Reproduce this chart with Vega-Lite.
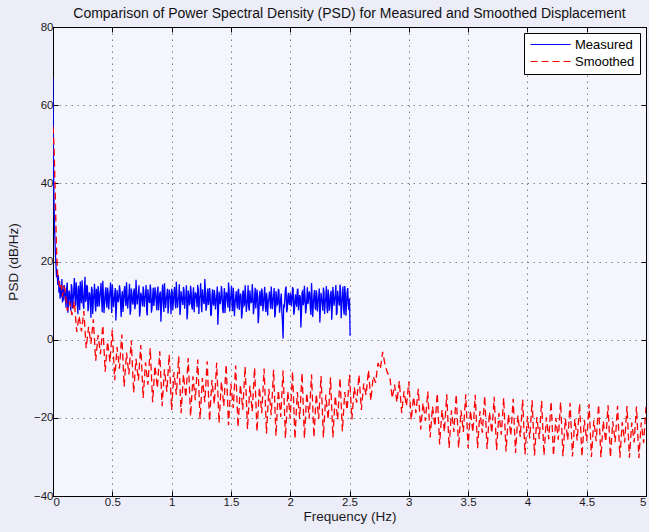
{
"$schema":"https://vega.github.io/schema/vega-lite/v6.json",
"autosize":"none",
"width":593,"height":469,
"padding":{"left":53,"top":27,"right":3,"bottom":36},
"title":{"text":"Comparison of Power Spectral Density (PSD) for Measured and Smoothed Displacement","fontSize":14,"fontWeight":"normal","font":"Liberation Sans","color":"#111","offset":0},
"data":{"values":[
{"f":0,"p":67,"s":"Measured"},{"f":0.004,"p":45,"s":"Measured"},{"f":0.008,"p":36,"s":"Measured"},{"f":0.012,"p":30,"s":"Measured"},{"f":0.016,"p":26,"s":"Measured"},{"f":0.02,"p":22,"s":"Measured"},{"f":0.025,"p":19,"s":"Measured"},{"f":0.03,"p":16,"s":"Measured"},{"f":0.035,"p":18,"s":"Measured"},{"f":0.04,"p":14,"s":"Measured"},{"f":0.045,"p":16.5,"s":"Measured"},{"f":0.05,"p":12,"s":"Measured"},{"f":0.055,"p":15,"s":"Measured"},{"f":0.06,"p":10.5,"s":"Measured"},{"f":0.065,"p":14,"s":"Measured"},{"f":0.07,"p":11,"s":"Measured"},{"f":0.075,"p":15.5,"s":"Measured"},{"f":0.08,"p":9.5,"s":"Measured"},{"f":0.085,"p":13,"s":"Measured"},{"f":0.09,"p":10,"s":"Measured"},{"f":0.095,"p":14,"s":"Measured"},
{"f":0.10,"p":12.5,"s":"Measured"},{"f":0.11,"p":8.2,"s":"Measured"},{"f":0.12,"p":14.6,"s":"Measured"},{"f":0.13,"p":9.1,"s":"Measured"},{"f":0.14,"p":11.8,"s":"Measured"},{"f":0.15,"p":7.4,"s":"Measured"},{"f":0.16,"p":13.2,"s":"Measured"},{"f":0.17,"p":10.1,"s":"Measured"},{"f":0.18,"p":15.8,"s":"Measured"},{"f":0.19,"p":8.7,"s":"Measured"},
{"f":0.20,"p":12.9,"s":"Measured"},{"f":0.21,"p":6.5,"s":"Measured"},{"f":0.22,"p":11.4,"s":"Measured"},{"f":0.23,"p":14.9,"s":"Measured"},{"f":0.24,"p":9.3,"s":"Measured"},{"f":0.25,"p":12.2,"s":"Measured"},{"f":0.26,"p":7.9,"s":"Measured"},{"f":0.27,"p":16.1,"s":"Measured"},{"f":0.28,"p":10.4,"s":"Measured"},{"f":0.29,"p":13.5,"s":"Measured"},
{"f":0.30,"p":8.1,"s":"Measured"},{"f":0.31,"p":11.7,"s":"Measured"},{"f":0.32,"p":5.6,"s":"Measured"},{"f":0.33,"p":12.8,"s":"Measured"},{"f":0.34,"p":9.9,"s":"Measured"},{"f":0.35,"p":14.3,"s":"Measured"},{"f":0.36,"p":7.2,"s":"Measured"},{"f":0.37,"p":11.1,"s":"Measured"},{"f":0.38,"p":13.7,"s":"Measured"},{"f":0.39,"p":8.5,"s":"Measured"},
{"f":0.40,"p":12.4,"s":"Measured"},{"f":0.41,"p":10.2,"s":"Measured"},{"f":0.42,"p":15.1,"s":"Measured"},{"f":0.43,"p":6.8,"s":"Measured"},{"f":0.44,"p":11.9,"s":"Measured"},{"f":0.45,"p":9.4,"s":"Measured"},{"f":0.46,"p":13.3,"s":"Measured"},{"f":0.47,"p":7.7,"s":"Measured"},{"f":0.48,"p":12.1,"s":"Measured"},{"f":0.49,"p":10.6,"s":"Measured"},
{"f":0.50,"p":14.2,"s":"Measured"},{"f":0.51,"p":8.3,"s":"Measured"},{"f":0.52,"p":11.5,"s":"Measured"},{"f":0.53,"p":4.9,"s":"Measured"},{"f":0.54,"p":12.7,"s":"Measured"},{"f":0.55,"p":9.6,"s":"Measured"},{"f":0.56,"p":13.9,"s":"Measured"},{"f":0.57,"p":8.9,"s":"Measured"},{"f":0.58,"p":11.2,"s":"Measured"},{"f":0.59,"p":7.1,"s":"Measured"},
{"f":0.60,"p":12.6,"s":"Measured"},{"f":0.61,"p":10.3,"s":"Measured"},{"f":0.62,"p":14.7,"s":"Measured"},{"f":0.63,"p":8.0,"s":"Measured"},{"f":0.64,"p":11.6,"s":"Measured"},{"f":0.65,"p":6.4,"s":"Measured"},{"f":0.66,"p":13.1,"s":"Measured"},{"f":0.67,"p":9.5,"s":"Measured"},{"f":0.68,"p":12.3,"s":"Measured"},{"f":0.69,"p":7.8,"s":"Measured"},
{"f":0.70,"p":15.3,"s":"Measured"},{"f":0.71,"p":9.0,"s":"Measured"},{"f":0.72,"p":11.8,"s":"Measured"},{"f":0.73,"p":5.9,"s":"Measured"},{"f":0.74,"p":12.0,"s":"Measured"},{"f":0.75,"p":10.1,"s":"Measured"},{"f":0.76,"p":13.6,"s":"Measured"},{"f":0.77,"p":8.4,"s":"Measured"},{"f":0.78,"p":11.3,"s":"Measured"},{"f":0.79,"p":7.3,"s":"Measured"},
{"f":0.80,"p":12.9,"s":"Measured"},{"f":0.81,"p":9.7,"s":"Measured"},{"f":0.82,"p":14.1,"s":"Measured"},{"f":0.83,"p":6.9,"s":"Measured"},{"f":0.84,"p":11.0,"s":"Measured"},{"f":0.85,"p":8.6,"s":"Measured"},{"f":0.86,"p":13.4,"s":"Measured"},{"f":0.87,"p":10.0,"s":"Measured"},{"f":0.88,"p":12.5,"s":"Measured"},{"f":0.89,"p":7.5,"s":"Measured"},
{"f":0.90,"p":11.7,"s":"Measured"},{"f":0.91,"p":4.6,"s":"Measured"},{"f":0.92,"p":12.2,"s":"Measured"},{"f":0.93,"p":9.2,"s":"Measured"},{"f":0.94,"p":14.4,"s":"Measured"},{"f":0.95,"p":8.1,"s":"Measured"},{"f":0.96,"p":11.4,"s":"Measured"},{"f":0.97,"p":6.7,"s":"Measured"},{"f":0.98,"p":12.8,"s":"Measured"},{"f":0.99,"p":10.5,"s":"Measured"},
{"f":1.00,"p":13.0,"s":"Measured"},{"f":1.01,"p":7.6,"s":"Measured"},{"f":1.02,"p":11.9,"s":"Measured"},{"f":1.03,"p":9.3,"s":"Measured"},{"f":1.04,"p":14.8,"s":"Measured"},{"f":1.05,"p":8.2,"s":"Measured"},{"f":1.06,"p":10.9,"s":"Measured"},{"f":1.07,"p":6.3,"s":"Measured"},{"f":1.08,"p":12.4,"s":"Measured"},{"f":1.09,"p":9.8,"s":"Measured"},
{"f":1.10,"p":13.5,"s":"Measured"},{"f":1.11,"p":7.9,"s":"Measured"},{"f":1.12,"p":11.1,"s":"Measured"},{"f":1.13,"p":5.2,"s":"Measured"},{"f":1.14,"p":12.6,"s":"Measured"},{"f":1.15,"p":9.0,"s":"Measured"},{"f":1.16,"p":13.8,"s":"Measured"},{"f":1.17,"p":8.5,"s":"Measured"},{"f":1.18,"p":11.6,"s":"Measured"},{"f":1.19,"p":7.0,"s":"Measured"},
{"f":1.20,"p":12.1,"s":"Measured"},{"f":1.21,"p":10.2,"s":"Measured"},{"f":1.22,"p":14.0,"s":"Measured"},{"f":1.23,"p":6.6,"s":"Measured"},{"f":1.24,"p":11.3,"s":"Measured"},{"f":1.25,"p":8.8,"s":"Measured"},{"f":1.26,"p":12.9,"s":"Measured"},{"f":1.27,"p":9.6,"s":"Measured"},{"f":1.28,"p":15.5,"s":"Measured"},{"f":1.29,"p":7.4,"s":"Measured"},
{"f":1.30,"p":11.5,"s":"Measured"},{"f":1.31,"p":8.9,"s":"Measured"},{"f":1.32,"p":13.2,"s":"Measured"},{"f":1.33,"p":6.1,"s":"Measured"},{"f":1.34,"p":10.8,"s":"Measured"},{"f":1.35,"p":9.4,"s":"Measured"},{"f":1.36,"p":12.7,"s":"Measured"},{"f":1.37,"p":7.7,"s":"Measured"},{"f":1.38,"p":11.0,"s":"Measured"},{"f":1.39,"p":3.8,"s":"Measured"},
{"f":1.40,"p":12.3,"s":"Measured"},{"f":1.41,"p":9.1,"s":"Measured"},{"f":1.42,"p":13.7,"s":"Measured"},{"f":1.43,"p":8.0,"s":"Measured"},{"f":1.44,"p":10.7,"s":"Measured"},{"f":1.45,"p":6.8,"s":"Measured"},{"f":1.46,"p":12.0,"s":"Measured"},{"f":1.47,"p":9.9,"s":"Measured"},{"f":1.48,"p":14.6,"s":"Measured"},{"f":1.49,"p":7.2,"s":"Measured"},
{"f":1.50,"p":11.2,"s":"Measured"},{"f":1.51,"p":8.4,"s":"Measured"},{"f":1.52,"p":13.3,"s":"Measured"},{"f":1.53,"p":6.0,"s":"Measured"},{"f":1.54,"p":10.6,"s":"Measured"},{"f":1.55,"p":9.2,"s":"Measured"},{"f":1.56,"p":12.5,"s":"Measured"},{"f":1.57,"p":7.6,"s":"Measured"},{"f":1.58,"p":11.8,"s":"Measured"},{"f":1.59,"p":5.4,"s":"Measured"},
{"f":1.60,"p":12.2,"s":"Measured"},{"f":1.61,"p":8.7,"s":"Measured"},{"f":1.62,"p":13.9,"s":"Measured"},{"f":1.63,"p":7.1,"s":"Measured"},{"f":1.64,"p":10.4,"s":"Measured"},{"f":1.65,"p":8.3,"s":"Measured"},{"f":1.66,"p":12.6,"s":"Measured"},{"f":1.67,"p":9.5,"s":"Measured"},{"f":1.68,"p":14.2,"s":"Measured"},{"f":1.69,"p":6.5,"s":"Measured"},
{"f":1.70,"p":11.0,"s":"Measured"},{"f":1.71,"p":8.0,"s":"Measured"},{"f":1.72,"p":12.8,"s":"Measured"},{"f":1.73,"p":4.2,"s":"Measured"},{"f":1.74,"p":10.9,"s":"Measured"},{"f":1.75,"p":9.0,"s":"Measured"},{"f":1.76,"p":13.1,"s":"Measured"},{"f":1.77,"p":7.3,"s":"Measured"},{"f":1.78,"p":11.5,"s":"Measured"},{"f":1.79,"p":8.6,"s":"Measured"},
{"f":1.80,"p":12.0,"s":"Measured"},{"f":1.81,"p":6.2,"s":"Measured"},{"f":1.82,"p":10.3,"s":"Measured"},{"f":1.83,"p":9.7,"s":"Measured"},{"f":1.84,"p":13.6,"s":"Measured"},{"f":1.85,"p":7.8,"s":"Measured"},{"f":1.86,"p":11.1,"s":"Measured"},{"f":1.87,"p":5.7,"s":"Measured"},{"f":1.88,"p":12.4,"s":"Measured"},{"f":1.89,"p":8.9,"s":"Measured"},
{"f":1.90,"p":13.0,"s":"Measured"},{"f":1.91,"p":6.9,"s":"Measured"},{"f":1.92,"p":10.5,"s":"Measured"},{"f":1.93,"p":6.9,"s":"Measured"},{"f":1.94,"p":0.3,"s":"Measured"},{"f":1.95,"p":8.2,"s":"Measured"},{"f":1.96,"p":12.9,"s":"Measured"},{"f":1.97,"p":7.0,"s":"Measured"},{"f":1.98,"p":10.8,"s":"Measured"},{"f":1.99,"p":9.4,"s":"Measured"},
{"f":2.00,"p":11.9,"s":"Measured"},{"f":2.01,"p":8.5,"s":"Measured"},{"f":2.02,"p":13.4,"s":"Measured"},{"f":2.03,"p":6.4,"s":"Measured"},{"f":2.04,"p":10.2,"s":"Measured"},{"f":2.05,"p":9.3,"s":"Measured"},{"f":2.06,"p":12.7,"s":"Measured"},{"f":2.07,"p":7.5,"s":"Measured"},{"f":2.08,"p":11.4,"s":"Measured"},{"f":2.09,"p":3.1,"s":"Measured"},
{"f":2.10,"p":12.1,"s":"Measured"},{"f":2.11,"p":8.8,"s":"Measured"},{"f":2.12,"p":13.8,"s":"Measured"},{"f":2.13,"p":6.7,"s":"Measured"},{"f":2.14,"p":10.6,"s":"Measured"},{"f":2.15,"p":9.1,"s":"Measured"},{"f":2.16,"p":12.3,"s":"Measured"},{"f":2.17,"p":7.9,"s":"Measured"},{"f":2.18,"p":14.5,"s":"Measured"},{"f":2.19,"p":5.8,"s":"Measured"},
{"f":2.20,"p":11.2,"s":"Measured"},{"f":2.21,"p":8.4,"s":"Measured"},{"f":2.22,"p":12.6,"s":"Measured"},{"f":2.23,"p":7.2,"s":"Measured"},{"f":2.24,"p":10.9,"s":"Measured"},{"f":2.25,"p":4.4,"s":"Measured"},{"f":2.26,"p":12.0,"s":"Measured"},{"f":2.27,"p":9.4,"s":"Measured"},{"f":2.28,"p":13.3,"s":"Measured"},{"f":2.29,"p":6.6,"s":"Measured"},
{"f":2.30,"p":10.7,"s":"Measured"},{"f":2.31,"p":8.1,"s":"Measured"},{"f":2.32,"p":12.8,"s":"Measured"},{"f":2.33,"p":7.4,"s":"Measured"},{"f":2.34,"p":11.6,"s":"Measured"},{"f":2.35,"p":5.1,"s":"Measured"},{"f":2.36,"p":13.5,"s":"Measured"},{"f":2.37,"p":8.7,"s":"Measured"},{"f":2.38,"p":11.3,"s":"Measured"},{"f":2.39,"p":6.3,"s":"Measured"},
{"f":2.40,"p":12.5,"s":"Measured"},{"f":2.41,"p":9.6,"s":"Measured"},{"f":2.42,"p":14.1,"s":"Measured"},{"f":2.43,"p":5.5,"s":"Measured"},{"f":2.44,"p":11.0,"s":"Measured"},{"f":2.45,"p":7.8,"s":"Measured"},{"f":2.46,"p":13.7,"s":"Measured"},{"f":2.47,"p":6.1,"s":"Measured"},{"f":2.48,"p":12.2,"s":"Measured"},{"f":2.49,"p":9.0,"s":"Measured"},
{"f":2.50,"p":10.5,"s":"Measured"},{"f":2.505,"p":1.0,"s":"Measured"},
{"f":0.105,"p":10.4,"s":"Measured"},{"f":0.115,"p":13.1,"s":"Measured"},{"f":0.125,"p":6.9,"s":"Measured"},{"f":0.135,"p":12.6,"s":"Measured"},{"f":0.145,"p":9.8,"s":"Measured"},{"f":0.155,"p":14.2,"s":"Measured"},{"f":0.165,"p":8.0,"s":"Measured"},{"f":0.175,"p":12.4,"s":"Measured"},{"f":0.185,"p":11.0,"s":"Measured"},{"f":0.195,"p":14.7,"s":"Measured"},
{"f":0.205,"p":9.2,"s":"Measured"},{"f":0.215,"p":13.8,"s":"Measured"},{"f":0.225,"p":7.6,"s":"Measured"},{"f":0.235,"p":11.5,"s":"Measured"},{"f":0.245,"p":15.2,"s":"Measured"},{"f":0.255,"p":8.8,"s":"Measured"},{"f":0.265,"p":12.9,"s":"Measured"},{"f":0.275,"p":9.7,"s":"Measured"},{"f":0.285,"p":14.0,"s":"Measured"},{"f":0.295,"p":7.3,"s":"Measured"},
{"f":0.305,"p":12.1,"s":"Measured"},{"f":0.315,"p":10.0,"s":"Measured"},{"f":0.325,"p":13.5,"s":"Measured"},{"f":0.335,"p":6.6,"s":"Measured"},{"f":0.345,"p":11.8,"s":"Measured"},{"f":0.355,"p":9.1,"s":"Measured"},{"f":0.365,"p":13.0,"s":"Measured"},{"f":0.375,"p":8.4,"s":"Measured"},{"f":0.385,"p":12.2,"s":"Measured"},{"f":0.395,"p":10.8,"s":"Measured"},
{"f":0.405,"p":14.5,"s":"Measured"},{"f":0.415,"p":7.0,"s":"Measured"},{"f":0.425,"p":11.3,"s":"Measured"},{"f":0.435,"p":9.5,"s":"Measured"},{"f":0.445,"p":13.4,"s":"Measured"},{"f":0.455,"p":8.2,"s":"Measured"},{"f":0.465,"p":12.0,"s":"Measured"},{"f":0.475,"p":10.4,"s":"Measured"},{"f":0.485,"p":14.6,"s":"Measured"},{"f":0.495,"p":6.8,"s":"Measured"},
{"f":0.505,"p":11.6,"s":"Measured"},{"f":0.515,"p":9.9,"s":"Measured"},{"f":0.525,"p":13.2,"s":"Measured"},{"f":0.535,"p":7.9,"s":"Measured"},{"f":0.545,"p":11.1,"s":"Measured"},{"f":0.555,"p":10.6,"s":"Measured"},{"f":0.565,"p":12.8,"s":"Measured"},{"f":0.575,"p":5.8,"s":"Measured"},{"f":0.585,"p":12.4,"s":"Measured"},{"f":0.595,"p":9.3,"s":"Measured"},
{"f":0.605,"p":13.7,"s":"Measured"},{"f":0.615,"p":8.6,"s":"Measured"},{"f":0.625,"p":11.0,"s":"Measured"},{"f":0.635,"p":10.2,"s":"Measured"},{"f":0.645,"p":14.3,"s":"Measured"},{"f":0.655,"p":7.4,"s":"Measured"},{"f":0.665,"p":11.7,"s":"Measured"},{"f":0.675,"p":9.0,"s":"Measured"},{"f":0.685,"p":13.1,"s":"Measured"},{"f":0.695,"p":8.9,"s":"Measured"},
{"f":0.705,"p":11.9,"s":"Measured"},{"f":0.715,"p":10.5,"s":"Measured"},{"f":0.725,"p":13.9,"s":"Measured"},{"f":0.735,"p":7.2,"s":"Measured"},{"f":0.745,"p":11.4,"s":"Measured"},{"f":0.755,"p":8.5,"s":"Measured"},{"f":0.765,"p":12.5,"s":"Measured"},{"f":0.775,"p":10.7,"s":"Measured"},{"f":0.785,"p":14.0,"s":"Measured"},{"f":0.795,"p":6.2,"s":"Measured"},
{"f":0.805,"p":11.1,"s":"Measured"},{"f":0.815,"p":9.4,"s":"Measured"},{"f":0.825,"p":12.7,"s":"Measured"},{"f":0.835,"p":8.1,"s":"Measured"},{"f":0.845,"p":13.3,"s":"Measured"},{"f":0.855,"p":10.1,"s":"Measured"},{"f":0.865,"p":11.8,"s":"Measured"},{"f":0.875,"p":7.5,"s":"Measured"},{"f":0.885,"p":13.6,"s":"Measured"},{"f":0.895,"p":9.6,"s":"Measured"},
{"f":0.905,"p":12.3,"s":"Measured"},{"f":0.915,"p":8.8,"s":"Measured"},{"f":0.925,"p":14.1,"s":"Measured"},{"f":0.935,"p":7.1,"s":"Measured"},{"f":0.945,"p":11.2,"s":"Measured"},{"f":0.955,"p":10.3,"s":"Measured"},{"f":0.965,"p":13.0,"s":"Measured"},{"f":0.975,"p":8.7,"s":"Measured"},{"f":0.985,"p":11.6,"s":"Measured"},{"f":0.995,"p":6.5,"s":"Measured"},
{"f":1.005,"p":12.4,"s":"Measured"},{"f":1.015,"p":9.7,"s":"Measured"},{"f":1.025,"p":13.5,"s":"Measured"},{"f":1.035,"p":8.0,"s":"Measured"},{"f":1.045,"p":11.3,"s":"Measured"},{"f":1.055,"p":10.1,"s":"Measured"},{"f":1.065,"p":14.2,"s":"Measured"},{"f":1.075,"p":7.8,"s":"Measured"},{"f":1.085,"p":11.0,"s":"Measured"},{"f":1.095,"p":8.9,"s":"Measured"},
{"f":1.105,"p":12.6,"s":"Measured"},{"f":1.115,"p":10.4,"s":"Measured"},{"f":1.125,"p":13.9,"s":"Measured"},{"f":1.135,"p":6.9,"s":"Measured"},{"f":1.145,"p":11.5,"s":"Measured"},{"f":1.155,"p":9.2,"s":"Measured"},{"f":1.165,"p":12.1,"s":"Measured"},{"f":1.175,"p":7.7,"s":"Measured"},{"f":1.185,"p":13.4,"s":"Measured"},{"f":1.195,"p":9.9,"s":"Measured"},
{"f":1.205,"p":11.7,"s":"Measured"},{"f":1.215,"p":8.3,"s":"Measured"},{"f":1.225,"p":12.8,"s":"Measured"},{"f":1.235,"p":10.6,"s":"Measured"},{"f":1.245,"p":14.4,"s":"Measured"},{"f":1.255,"p":7.0,"s":"Measured"},{"f":1.265,"p":11.2,"s":"Measured"},{"f":1.275,"p":9.1,"s":"Measured"},{"f":1.285,"p":12.5,"s":"Measured"},{"f":1.295,"p":8.4,"s":"Measured"},
{"f":1.305,"p":13.1,"s":"Measured"},{"f":1.315,"p":10.0,"s":"Measured"},{"f":1.325,"p":11.6,"s":"Measured"},{"f":1.335,"p":6.4,"s":"Measured"},{"f":1.345,"p":12.9,"s":"Measured"},{"f":1.355,"p":8.7,"s":"Measured"},{"f":1.365,"p":11.4,"s":"Measured"},{"f":1.375,"p":9.8,"s":"Measured"},{"f":1.385,"p":13.6,"s":"Measured"},{"f":1.395,"p":7.5,"s":"Measured"},
{"f":1.405,"p":11.0,"s":"Measured"},{"f":1.415,"p":10.3,"s":"Measured"},{"f":1.425,"p":12.2,"s":"Measured"},{"f":1.435,"p":6.8,"s":"Measured"},{"f":1.445,"p":13.2,"s":"Measured"},{"f":1.455,"p":9.4,"s":"Measured"},{"f":1.465,"p":11.9,"s":"Measured"},{"f":1.475,"p":8.2,"s":"Measured"},{"f":1.485,"p":12.7,"s":"Measured"},{"f":1.495,"p":10.1,"s":"Measured"},
{"f":1.505,"p":13.8,"s":"Measured"},{"f":1.515,"p":7.3,"s":"Measured"},{"f":1.525,"p":10.9,"s":"Measured"},{"f":1.535,"p":9.5,"s":"Measured"},{"f":1.545,"p":12.4,"s":"Measured"},{"f":1.555,"p":8.0,"s":"Measured"},{"f":1.565,"p":13.0,"s":"Measured"},{"f":1.575,"p":9.9,"s":"Measured"},{"f":1.585,"p":11.3,"s":"Measured"},{"f":1.595,"p":6.7,"s":"Measured"},
{"f":1.605,"p":12.6,"s":"Measured"},{"f":1.615,"p":9.0,"s":"Measured"},{"f":1.625,"p":11.5,"s":"Measured"},{"f":1.635,"p":8.8,"s":"Measured"},{"f":1.645,"p":13.9,"s":"Measured"},{"f":1.655,"p":7.4,"s":"Measured"},{"f":1.665,"p":10.8,"s":"Measured"},{"f":1.675,"p":9.6,"s":"Measured"},{"f":1.685,"p":12.0,"s":"Measured"},{"f":1.695,"p":8.3,"s":"Measured"},
{"f":1.705,"p":13.3,"s":"Measured"},{"f":1.715,"p":10.2,"s":"Measured"},{"f":1.725,"p":11.1,"s":"Measured"},{"f":1.735,"p":6.0,"s":"Measured"},{"f":1.745,"p":12.5,"s":"Measured"},{"f":1.755,"p":8.6,"s":"Measured"},{"f":1.765,"p":11.7,"s":"Measured"},{"f":1.775,"p":9.3,"s":"Measured"},{"f":1.785,"p":13.5,"s":"Measured"},{"f":1.795,"p":7.1,"s":"Measured"},
{"f":1.805,"p":10.6,"s":"Measured"},{"f":1.815,"p":9.8,"s":"Measured"},{"f":1.825,"p":12.3,"s":"Measured"},{"f":1.835,"p":7.9,"s":"Measured"},{"f":1.845,"p":11.4,"s":"Measured"},{"f":1.855,"p":10.0,"s":"Measured"},{"f":1.865,"p":13.2,"s":"Measured"},{"f":1.875,"p":6.6,"s":"Measured"},{"f":1.885,"p":11.0,"s":"Measured"},{"f":1.895,"p":9.2,"s":"Measured"},
{"f":1.905,"p":12.6,"s":"Measured"},{"f":1.915,"p":8.5,"s":"Measured"},{"f":1.925,"p":11.8,"s":"Measured"},{"f":1.935,"p":4.5,"s":"Measured"},{"f":1.945,"p":9.0,"s":"Measured"},{"f":1.955,"p":10.7,"s":"Measured"},{"f":1.965,"p":13.6,"s":"Measured"},{"f":1.975,"p":7.7,"s":"Measured"},{"f":1.985,"p":12.0,"s":"Measured"},{"f":1.995,"p":8.9,"s":"Measured"},
{"f":2.005,"p":11.2,"s":"Measured"},{"f":2.015,"p":10.1,"s":"Measured"},{"f":2.025,"p":12.9,"s":"Measured"},{"f":2.035,"p":7.2,"s":"Measured"},{"f":2.045,"p":11.6,"s":"Measured"},{"f":2.055,"p":8.4,"s":"Measured"},{"f":2.065,"p":13.0,"s":"Measured"},{"f":2.075,"p":9.5,"s":"Measured"},{"f":2.085,"p":10.8,"s":"Measured"},{"f":2.095,"p":6.9,"s":"Measured"},
{"f":2.105,"p":12.4,"s":"Measured"},{"f":2.115,"p":9.7,"s":"Measured"},{"f":2.125,"p":11.1,"s":"Measured"},{"f":2.135,"p":8.0,"s":"Measured"},{"f":2.145,"p":13.4,"s":"Measured"},{"f":2.155,"p":10.3,"s":"Measured"},{"f":2.165,"p":11.9,"s":"Measured"},{"f":2.175,"p":6.3,"s":"Measured"},{"f":2.185,"p":10.5,"s":"Measured"},{"f":2.195,"p":9.1,"s":"Measured"},
{"f":2.205,"p":12.7,"s":"Measured"},{"f":2.215,"p":7.6,"s":"Measured"},{"f":2.225,"p":11.3,"s":"Measured"},{"f":2.235,"p":9.9,"s":"Measured"},{"f":2.245,"p":13.1,"s":"Measured"},{"f":2.255,"p":8.1,"s":"Measured"},{"f":2.265,"p":10.6,"s":"Measured"},{"f":2.275,"p":7.4,"s":"Measured"},{"f":2.285,"p":12.2,"s":"Measured"},{"f":2.295,"p":9.5,"s":"Measured"},
{"f":2.305,"p":13.7,"s":"Measured"},{"f":2.315,"p":6.8,"s":"Measured"},{"f":2.325,"p":11.0,"s":"Measured"},{"f":2.335,"p":9.0,"s":"Measured"},{"f":2.345,"p":12.5,"s":"Measured"},{"f":2.355,"p":8.3,"s":"Measured"},{"f":2.365,"p":11.4,"s":"Measured"},{"f":2.375,"p":10.2,"s":"Measured"},{"f":2.385,"p":14.0,"s":"Measured"},{"f":2.395,"p":7.0,"s":"Measured"},
{"f":2.405,"p":10.9,"s":"Measured"},{"f":2.415,"p":8.7,"s":"Measured"},{"f":2.425,"p":12.3,"s":"Measured"},{"f":2.435,"p":9.4,"s":"Measured"},{"f":2.445,"p":13.6,"s":"Measured"},{"f":2.455,"p":6.4,"s":"Measured"},{"f":2.465,"p":11.5,"s":"Measured"},{"f":2.475,"p":8.9,"s":"Measured"},{"f":2.485,"p":13.2,"s":"Measured"},{"f":2.495,"p":7.6,"s":"Measured"},
{"f":0,"p":54.5,"s":"Smoothed"},{"f":0.005,"p":52,"s":"Smoothed"},{"f":0.01,"p":48,"s":"Smoothed"},{"f":0.015,"p":42,"s":"Smoothed"},{"f":0.02,"p":36,"s":"Smoothed"},{"f":0.025,"p":29,"s":"Smoothed"},{"f":0.03,"p":23,"s":"Smoothed"},{"f":0.035,"p":19,"s":"Smoothed"},{"f":0.04,"p":16.5,"s":"Smoothed"},{"f":0.05,"p":14.5,"s":"Smoothed"},{"f":0.06,"p":13,"s":"Smoothed"},{"f":0.07,"p":14,"s":"Smoothed"},{"f":0.08,"p":11,"s":"Smoothed"},{"f":0.09,"p":13.5,"s":"Smoothed"},
{"f":0.10,"p":13,"s":"Smoothed"},{"f":0.12,"p":7.4,"s":"Smoothed"},{"f":0.14,"p":9.7,"s":"Smoothed"},{"f":0.16,"p":6.3,"s":"Smoothed"},{"f":0.18,"p":9.8,"s":"Smoothed"},{"f":0.20,"p":2,"s":"Smoothed"},{"f":0.22,"p":6.1,"s":"Smoothed"},{"f":0.24,"p":2.1,"s":"Smoothed"},{"f":0.26,"p":7.3,"s":"Smoothed"},{"f":0.28,"p":-2.2,"s":"Smoothed"},
{"f":0.30,"p":3.3,"s":"Smoothed"},{"f":0.32,"p":-1.0,"s":"Smoothed"},{"f":0.34,"p":5.2,"s":"Smoothed"},{"f":0.36,"p":-5.4,"s":"Smoothed"},{"f":0.38,"p":1.2,"s":"Smoothed"},{"f":0.40,"p":-3.7,"s":"Smoothed"},{"f":0.42,"p":3.7,"s":"Smoothed"},{"f":0.44,"p":-8.2,"s":"Smoothed"},{"f":0.46,"p":-0.5,"s":"Smoothed"},{"f":0.48,"p":-5.7,"s":"Smoothed"},
{"f":0.50,"p":2.5,"s":"Smoothed"},{"f":0.52,"p":-10.4,"s":"Smoothed"},{"f":0.54,"p":-1.9,"s":"Smoothed"},{"f":0.56,"p":-7.4,"s":"Smoothed"},{"f":0.58,"p":1.3,"s":"Smoothed"},{"f":0.60,"p":-12,"s":"Smoothed"},{"f":0.62,"p":-3.3,"s":"Smoothed"},{"f":0.64,"p":-8.9,"s":"Smoothed"},{"f":0.66,"p":-0.2,"s":"Smoothed"},{"f":0.68,"p":-13.6,"s":"Smoothed"},
{"f":0.70,"p":-4.9,"s":"Smoothed"},{"f":0.72,"p":-10.4,"s":"Smoothed"},{"f":0.74,"p":-1.4,"s":"Smoothed"},{"f":0.76,"p":-14.9,"s":"Smoothed"},{"f":0.78,"p":-5.8,"s":"Smoothed"},{"f":0.80,"p":-11.5,"s":"Smoothed"},{"f":0.82,"p":-2.2,"s":"Smoothed"},{"f":0.84,"p":-16,"s":"Smoothed"},{"f":0.86,"p":-6.7,"s":"Smoothed"},{"f":0.88,"p":-12.4,"s":"Smoothed"},
{"f":0.90,"p":-3,"s":"Smoothed"},{"f":0.92,"p":-17,"s":"Smoothed"},{"f":0.94,"p":-7.6,"s":"Smoothed"},{"f":0.96,"p":-13.3,"s":"Smoothed"},{"f":0.98,"p":-3.8,"s":"Smoothed"},{"f":1.00,"p":-18,"s":"Smoothed"},{"f":1.02,"p":-8.3,"s":"Smoothed"},{"f":1.04,"p":-14.1,"s":"Smoothed"},{"f":1.06,"p":-4.3,"s":"Smoothed"},{"f":1.08,"p":-18.8,"s":"Smoothed"},
{"f":1.10,"p":-8.9,"s":"Smoothed"},{"f":1.12,"p":-14.8,"s":"Smoothed"},{"f":1.14,"p":-4.7,"s":"Smoothed"},{"f":1.16,"p":-19.6,"s":"Smoothed"},{"f":1.18,"p":-9.4,"s":"Smoothed"},{"f":1.20,"p":-15.5,"s":"Smoothed"},{"f":1.22,"p":-5.1,"s":"Smoothed"},{"f":1.24,"p":-20.3,"s":"Smoothed"},{"f":1.26,"p":-9.8,"s":"Smoothed"},{"f":1.28,"p":-16.0,"s":"Smoothed"},
{"f":1.30,"p":-5.5,"s":"Smoothed"},{"f":1.32,"p":-20.8,"s":"Smoothed"},{"f":1.34,"p":-10.3,"s":"Smoothed"},{"f":1.36,"p":-16.5,"s":"Smoothed"},{"f":1.38,"p":-5.9,"s":"Smoothed"},{"f":1.40,"p":-21.3,"s":"Smoothed"},{"f":1.42,"p":-10.7,"s":"Smoothed"},{"f":1.44,"p":-17.0,"s":"Smoothed"},{"f":1.46,"p":-6.3,"s":"Smoothed"},{"f":1.48,"p":-21.9,"s":"Smoothed"},
{"f":1.50,"p":-11.2,"s":"Smoothed"},{"f":1.52,"p":-17.5,"s":"Smoothed"},{"f":1.54,"p":-6.6,"s":"Smoothed"},{"f":1.56,"p":-22.4,"s":"Smoothed"},{"f":1.58,"p":-11.5,"s":"Smoothed"},{"f":1.60,"p":-17.9,"s":"Smoothed"},{"f":1.62,"p":-6.9,"s":"Smoothed"},{"f":1.64,"p":-22.9,"s":"Smoothed"},{"f":1.66,"p":-11.8,"s":"Smoothed"},{"f":1.68,"p":-18.4,"s":"Smoothed"},
{"f":1.70,"p":-7.2,"s":"Smoothed"},{"f":1.72,"p":-23.5,"s":"Smoothed"},{"f":1.74,"p":-12.2,"s":"Smoothed"},{"f":1.76,"p":-18.8,"s":"Smoothed"},{"f":1.78,"p":-7.4,"s":"Smoothed"},{"f":1.80,"p":-24,"s":"Smoothed"},{"f":1.82,"p":-12.6,"s":"Smoothed"},{"f":1.84,"p":-19.3,"s":"Smoothed"},{"f":1.86,"p":-7.7,"s":"Smoothed"},{"f":1.88,"p":-24.6,"s":"Smoothed"},
{"f":1.90,"p":-12.9,"s":"Smoothed"},{"f":1.92,"p":-19.8,"s":"Smoothed"},{"f":1.94,"p":-7.9,"s":"Smoothed"},{"f":1.96,"p":-25.2,"s":"Smoothed"},{"f":1.98,"p":-13.2,"s":"Smoothed"},{"f":2.00,"p":-20.2,"s":"Smoothed"},{"f":2.02,"p":-8.1,"s":"Smoothed"},{"f":2.04,"p":-25.4,"s":"Smoothed"},{"f":2.06,"p":-13.4,"s":"Smoothed"},{"f":2.08,"p":-20.2,"s":"Smoothed"},
{"f":2.10,"p":-8.5,"s":"Smoothed"},{"f":2.12,"p":-25.2,"s":"Smoothed"},{"f":2.14,"p":-13.6,"s":"Smoothed"},{"f":2.16,"p":-20.2,"s":"Smoothed"},{"f":2.18,"p":-8.9,"s":"Smoothed"},{"f":2.20,"p":-25,"s":"Smoothed"},{"f":2.22,"p":-13.9,"s":"Smoothed"},{"f":2.24,"p":-20.3,"s":"Smoothed"},{"f":2.26,"p":-9.3,"s":"Smoothed"},{"f":2.28,"p":-25,"s":"Smoothed"},
{"f":2.30,"p":-14.1,"s":"Smoothed"},{"f":2.32,"p":-20.4,"s":"Smoothed"},{"f":2.34,"p":-9.7,"s":"Smoothed"},{"f":2.36,"p":-25,"s":"Smoothed"},{"f":2.38,"p":-14.4,"s":"Smoothed"},{"f":2.40,"p":-20.5,"s":"Smoothed"},{"f":2.42,"p":-9.8,"s":"Smoothed"},{"f":2.44,"p":-23.4,"s":"Smoothed"},{"f":2.46,"p":-13.4,"s":"Smoothed"},{"f":2.48,"p":-18.0,"s":"Smoothed"},
{"f":2.50,"p":-9.0,"s":"Smoothed"},{"f":2.52,"p":-20.4,"s":"Smoothed"},{"f":2.54,"p":-12.2,"s":"Smoothed"},{"f":2.56,"p":-16.1,"s":"Smoothed"},{"f":2.58,"p":-9,"s":"Smoothed"},{"f":2.60,"p":-18,"s":"Smoothed"},{"f":2.62,"p":-11.2,"s":"Smoothed"},{"f":2.64,"p":-14.2,"s":"Smoothed"},{"f":2.66,"p":-7.8,"s":"Smoothed"},{"f":2.68,"p":-15.6,"s":"Smoothed"},
{"f":2.70,"p":-9.4,"s":"Smoothed"},{"f":2.72,"p":-11,"s":"Smoothed"},{"f":2.74,"p":-6,"s":"Smoothed"},{"f":2.76,"p":-7.5,"s":"Smoothed"},{"f":2.78,"p":-3.1,"s":"Smoothed"},{"f":2.80,"p":-6.5,"s":"Smoothed"},{"f":2.82,"p":-8.5,"s":"Smoothed"},{"f":2.84,"p":-9.5,"s":"Smoothed"},{"f":2.86,"p":-15,"s":"Smoothed"},{"f":2.88,"p":-11.5,"s":"Smoothed"},
{"f":2.90,"p":-16,"s":"Smoothed"},{"f":2.92,"p":-10.6,"s":"Smoothed"},{"f":2.94,"p":-18.8,"s":"Smoothed"},{"f":2.96,"p":-13.2,"s":"Smoothed"},{"f":2.98,"p":-17,"s":"Smoothed"},{"f":3.00,"p":-10.7,"s":"Smoothed"},{"f":3.02,"p":-20.6,"s":"Smoothed"},{"f":3.04,"p":-14.6,"s":"Smoothed"},{"f":3.06,"p":-18.8,"s":"Smoothed"},{"f":3.08,"p":-12.6,"s":"Smoothed"},
{"f":3.10,"p":-23,"s":"Smoothed"},{"f":3.12,"p":-16.2,"s":"Smoothed"},{"f":3.14,"p":-20.8,"s":"Smoothed"},{"f":3.16,"p":-13.3,"s":"Smoothed"},{"f":3.18,"p":-25,"s":"Smoothed"},{"f":3.20,"p":-17.1,"s":"Smoothed"},{"f":3.22,"p":-22.2,"s":"Smoothed"},{"f":3.24,"p":-13.7,"s":"Smoothed"},{"f":3.26,"p":-26.8,"s":"Smoothed"},{"f":3.28,"p":-17.9,"s":"Smoothed"},
{"f":3.30,"p":-23.6,"s":"Smoothed"},{"f":3.32,"p":-14,"s":"Smoothed"},{"f":3.34,"p":-27.7,"s":"Smoothed"},{"f":3.36,"p":-18.1,"s":"Smoothed"},{"f":3.38,"p":-23.6,"s":"Smoothed"},{"f":3.40,"p":-14,"s":"Smoothed"},{"f":3.42,"p":-27.7,"s":"Smoothed"},{"f":3.44,"p":-18.1,"s":"Smoothed"},{"f":3.46,"p":-23.6,"s":"Smoothed"},{"f":3.48,"p":-14,"s":"Smoothed"},
{"f":3.50,"p":-27.7,"s":"Smoothed"},{"f":3.52,"p":-18.1,"s":"Smoothed"},{"f":3.54,"p":-23.7,"s":"Smoothed"},{"f":3.56,"p":-14.1,"s":"Smoothed"},{"f":3.58,"p":-27.8,"s":"Smoothed"},{"f":3.60,"p":-18.3,"s":"Smoothed"},{"f":3.62,"p":-23.8,"s":"Smoothed"},{"f":3.64,"p":-14.4,"s":"Smoothed"},{"f":3.66,"p":-27.95,"s":"Smoothed"},{"f":3.68,"p":-18.5,"s":"Smoothed"},
{"f":3.70,"p":-23.9,"s":"Smoothed"},{"f":3.72,"p":-14.6,"s":"Smoothed"},{"f":3.74,"p":-28.2,"s":"Smoothed"},{"f":3.76,"p":-18.8,"s":"Smoothed"},{"f":3.78,"p":-24.3,"s":"Smoothed"},{"f":3.80,"p":-14.9,"s":"Smoothed"},{"f":3.82,"p":-28.6,"s":"Smoothed"},{"f":3.84,"p":-19.1,"s":"Smoothed"},{"f":3.86,"p":-24.6,"s":"Smoothed"},{"f":3.88,"p":-15.1,"s":"Smoothed"},
{"f":3.90,"p":-29.0,"s":"Smoothed"},{"f":3.92,"p":-19.4,"s":"Smoothed"},{"f":3.94,"p":-24.9,"s":"Smoothed"},{"f":3.96,"p":-15.3,"s":"Smoothed"},{"f":3.98,"p":-29.4,"s":"Smoothed"},{"f":4.00,"p":-19.6,"s":"Smoothed"},{"f":4.02,"p":-25.3,"s":"Smoothed"},{"f":4.04,"p":-15.5,"s":"Smoothed"},{"f":4.06,"p":-29.6,"s":"Smoothed"},{"f":4.08,"p":-19.8,"s":"Smoothed"},
{"f":4.10,"p":-25.4,"s":"Smoothed"},{"f":4.12,"p":-15.7,"s":"Smoothed"},{"f":4.14,"p":-29.6,"s":"Smoothed"},{"f":4.16,"p":-19.9,"s":"Smoothed"},{"f":4.18,"p":-25.5,"s":"Smoothed"},{"f":4.20,"p":-15.8,"s":"Smoothed"},{"f":4.22,"p":-29.7,"s":"Smoothed"},{"f":4.24,"p":-20.0,"s":"Smoothed"},{"f":4.26,"p":-25.6,"s":"Smoothed"},{"f":4.28,"p":-16.0,"s":"Smoothed"},
{"f":4.30,"p":-29.8,"s":"Smoothed"},{"f":4.32,"p":-20.2,"s":"Smoothed"},{"f":4.34,"p":-25.7,"s":"Smoothed"},{"f":4.36,"p":-16.2,"s":"Smoothed"},{"f":4.38,"p":-29.9,"s":"Smoothed"},{"f":4.40,"p":-20.3,"s":"Smoothed"},{"f":4.42,"p":-25.8,"s":"Smoothed"},{"f":4.44,"p":-16.4,"s":"Smoothed"},{"f":4.46,"p":-29.95,"s":"Smoothed"},{"f":4.48,"p":-20.5,"s":"Smoothed"},
{"f":4.50,"p":-25.9,"s":"Smoothed"},{"f":4.52,"p":-16.5,"s":"Smoothed"},{"f":4.54,"p":-30.0,"s":"Smoothed"},{"f":4.56,"p":-20.6,"s":"Smoothed"},{"f":4.58,"p":-26.0,"s":"Smoothed"},{"f":4.60,"p":-16.6,"s":"Smoothed"},{"f":4.62,"p":-30.1,"s":"Smoothed"},{"f":4.64,"p":-20.8,"s":"Smoothed"},{"f":4.66,"p":-26.1,"s":"Smoothed"},{"f":4.68,"p":-16.8,"s":"Smoothed"},
{"f":4.70,"p":-30.1,"s":"Smoothed"},{"f":4.72,"p":-20.9,"s":"Smoothed"},{"f":4.74,"p":-26.2,"s":"Smoothed"},{"f":4.76,"p":-16.9,"s":"Smoothed"},{"f":4.78,"p":-30.2,"s":"Smoothed"},{"f":4.80,"p":-21.1,"s":"Smoothed"},{"f":4.82,"p":-26.3,"s":"Smoothed"},{"f":4.84,"p":-17.0,"s":"Smoothed"},{"f":4.86,"p":-30.2,"s":"Smoothed"},{"f":4.88,"p":-21.2,"s":"Smoothed"},
{"f":4.90,"p":-26.3,"s":"Smoothed"},{"f":4.92,"p":-17.1,"s":"Smoothed"},{"f":4.94,"p":-30.3,"s":"Smoothed"},{"f":4.96,"p":-21.2,"s":"Smoothed"},{"f":4.98,"p":-26.4,"s":"Smoothed"},{"f":5.00,"p":-17.2,"s":"Smoothed"}
]},
"layer":[
{"mark":{"type":"line","strokeWidth":1.3,"clip":true},
 "encoding":{
  "x":{"field":"f","type":"quantitative","scale":{"domain":[0,5],"nice":false,"zero":false},
       "axis":{"orient":"bottom","title":"Frequency (Hz)","values":[0,0.5,1,1.5,2,2.5,3,3.5,4,4.5,5],"format":"~g","tickSize":-5,"labelPadding":5,"titlePadding":2,"grid":true}},
  "y":{"field":"p","type":"quantitative","scale":{"domain":[-40,80],"nice":false,"zero":false},
       "axis":{"orient":"left","title":"PSD (dB/Hz)","values":[-40,-20,0,20,40,60,80],"tickSize":-5,"labelPadding":5,"titlePadding":13,"grid":true}},
  "color":{"field":"s","type":"nominal","scale":{"domain":["Measured","Smoothed"],"range":["#0000ff","#ff0000"]},
       "legend":{"title":null,"orient":"top-right","offset":6,"fillColor":"#ffffff","strokeColor":"#000000","padding":5,"symbolType":"M-4,0H4","symbolSize":100,"symbolOffset":15,"symbolStrokeWidth":1.2,"labelFontSize":13,"labelFont":"Liberation Sans","labelColor":"#000","rowPadding":3,"labelOffset":18}},
  "strokeDash":{"field":"s","type":"nominal","scale":{"domain":["Measured","Smoothed"],"range":[[1,0],[7,4]]},
       "legend":{"title":null,"orient":"top-right","offset":6,"fillColor":"#ffffff","strokeColor":"#000000","padding":5,"symbolType":"M-4,0H4","symbolSize":100,"symbolOffset":15,"symbolStrokeWidth":1.2,"labelFontSize":13,"labelFont":"Liberation Sans","labelColor":"#000","rowPadding":3,"labelOffset":18}}
 }},
{"mark":{"type":"line","strokeOpacity":0},
 "encoding":{
  "x":{"field":"f","type":"quantitative","axis":{"orient":"top","title":null,"labels":false,"values":[0,0.5,1,1.5,2,2.5,3,3.5,4,4.5,5],"tickSize":-5,"grid":false}},
  "y":{"field":"p","type":"quantitative","axis":{"orient":"right","title":null,"labels":false,"values":[-40,-20,0,20,40,60,80],"tickSize":-5,"grid":false}}
 }}
],
"resolve":{"axis":{"x":"independent","y":"independent"}},
"config":{
 "font":"Liberation Sans",
 "background":"#ededfa",
 "view":{"fill":"#f5f5fe","stroke":"#000000","strokeWidth":1},
 "axis":{"labelFont":"Liberation Sans","labelFontSize":11.5,"labelColor":"#1a1a1a","titleFont":"Liberation Sans","titleFontSize":13.5,"titleFontWeight":"normal","titleColor":"#1a1a1a","domainColor":"#000000","tickColor":"#000000","gridColor":"#808080","gridDash":[1.5,4.5],"gridOpacity":1,"gridWidth":1}
}
}
